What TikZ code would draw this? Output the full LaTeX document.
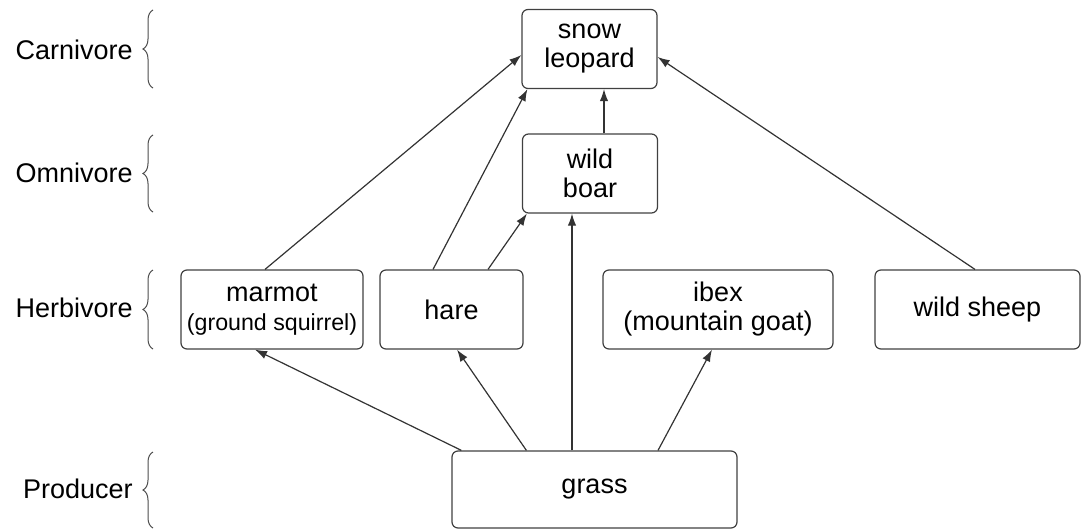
\documentclass[tikz,border=0pt]{standalone}
\usepackage{fontspec}
\setmainfont{Liberation Sans}
\usetikzlibrary{arrows.meta,decorations.pathreplacing}

\begin{document}
\begin{tikzpicture}[x=0.5pt, y=-0.5pt,
  font=\fontsize{13.5}{14.5}\selectfont, >={Latex[length=6pt,width=4.2pt]},
  animal/.style={draw=black!75, rounded corners=3pt, align=center, inner sep=1pt,
                 minimum height=39.5pt, line width=0.6pt},
  level/.style={anchor=east, inner sep=0pt},
  levelbrace/.style={decorate, decoration={brace, amplitude=5pt}, draw=black!70, line width=0.5pt},
  feed/.style={->, draw=black!80, line width=0.6pt}]
\useasboundingbox (0,0) rectangle (1081,530);

% trophic levels
\node (carn)  [level] at (133,50)  {Carnivore};
\node (omni)  [level] at (133,173) {Omnivore};
\node (herb)  [level] at (133,308) {Herbivore};
\node (prod)  [level] at (133,489) {Producer};
\foreach \lo/\hi in {88/10, 212/135, 349/270, 528/452}
  \draw[levelbrace] (153,\lo) -- (153,\hi);

% organisms
\node (leopard) [animal, minimum width=67.5pt] at (589.5,49)  {snow\\leopard};
\node (boar)    [animal, minimum width=67.5pt] at (590,173.5) {wild\\boar};
\node (marmot)  [animal, minimum width=91pt]   at (272,309.5)
  {marmot\\{\fontsize{11.6}{13}\selectfont(ground squirrel)}};
\node (hare)    [animal, minimum width=71.5pt] at (451.5,309.5) {hare};
\node (ibex)    [animal, minimum width=115pt]  at (718,309.5)   {ibex\\(mountain goat)};
\node (sheep)   [animal, minimum width=102.5pt] at (977.5,309.5) {wild sheep};
\node (grass)   [animal, minimum width=142.5pt, minimum height=38.5pt] at (594.5,489.5) {grass};

% who eats whom
\draw[feed] ([xshift=-3.5pt]marmot.north) -- ([yshift=-3pt]leopard.west);
\draw[feed] ([xshift=-9.25pt]hare.north) -- ([xshift=3pt]leopard.south west);
\draw[feed] ([xshift=18.25pt]hare.north) -- ([xshift=2.5pt]boar.south west);
\draw[feed] ([xshift=7pt]boar.north) -- ([xshift=7.25pt]leopard.south);
\draw[feed] ([xshift=-11.25pt]grass.north) -- ([xshift=-9pt]boar.south);
\draw[feed] ([xshift=-1.25pt]sheep.north) -- ([yshift=-4pt]leopard.east);
\draw[feed] ([xshift=5pt]grass.north west) -- ([xshift=-8.5pt]marmot.south);
\draw[feed] ([xshift=37.5pt]grass.north west) -- ([xshift=2.75pt]hare.south);
\draw[feed] ([xshift=31.75pt]grass.north) -- ([xshift=-3pt]ibex.south);
\end{tikzpicture}
\end{document}
